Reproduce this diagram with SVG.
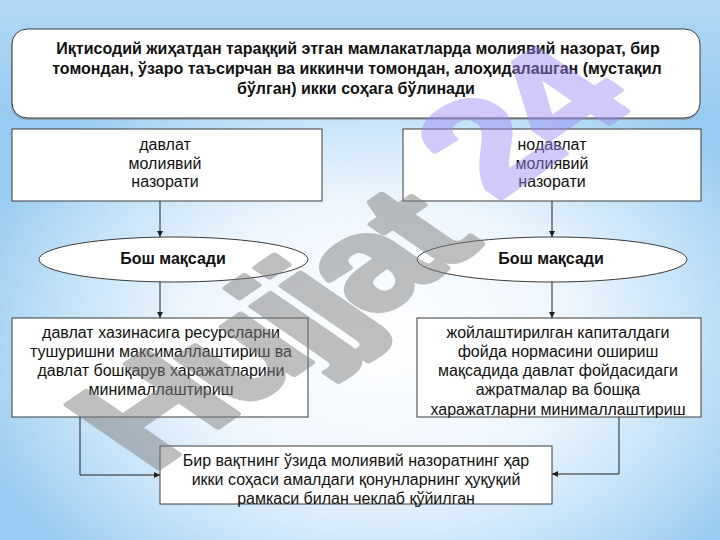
<svg xmlns="http://www.w3.org/2000/svg" width="720" height="540" viewBox="0 0 720 540">
<defs>
<radialGradient id="bg" gradientUnits="userSpaceOnUse" cx="380" cy="340" r="430" gradientTransform="translate(380 340) scale(1 0.72) translate(-380 -340)">
<stop offset="0" stop-color="#ffffff"/>
<stop offset="0.45" stop-color="#eef6fd"/>
<stop offset="0.75" stop-color="#c3e1f8"/>
<stop offset="1" stop-color="#98cbf1"/>
</radialGradient>
<linearGradient id="top" x1="0" y1="0" x2="0" y2="1">
<stop offset="0" stop-color="#b4d9f6" stop-opacity="0.9"/>
<stop offset="1" stop-color="#b4d9f6" stop-opacity="0"/>
</linearGradient>
<marker id="ah" viewBox="0 0 10 10" refX="10" refY="5" markerWidth="6" markerHeight="6" markerUnits="userSpaceOnUse" orient="auto">
<path d="M0,0 L10,5 L0,10 z" fill="#222"/>
</marker>
</defs>
<style>
.box{fill:#ffffff;stroke:#3a3a3a;stroke-width:1}
.t{font-family:"Liberation Sans",Arial,sans-serif;font-size:16px;fill:#111;text-anchor:middle}
.b{font-weight:bold;font-size:16px}
.c{fill:none;stroke:#222;stroke-width:1}
.wm{font-family:"Liberation Sans",Arial,sans-serif;font-weight:bold;font-size:130px;stroke-width:5;stroke-linejoin:round}
</style>
<rect x="0" y="0" width="720" height="540" fill="url(#bg)"/>
<rect x="0" y="0" width="720" height="120" fill="url(#top)"/>

<g id="node-top">
<rect x="11" y="31" width="689" height="89" rx="15" fill="#7a7a7a" opacity="0.45"/>
<rect x="12" y="29" width="688" height="89" rx="15" class="box" stroke="#555"/>
<text class="t b" x="358" y="54">Иқтисодий жиҳатдан тараққий этган мамлакатларда молиявий назорат, бир</text>
<text class="t b" x="357" y="74">томондан, ўзаро таъсирчан ва иккинчи томондан, алоҳидалашган (мустақил</text>
<text class="t b" x="356" y="94">бўлган) икки соҳага бўлинади</text>
</g>

<g id="node-state">
<rect x="12" y="129" width="310" height="72" class="box"/>
<text class="t" x="165" y="150">давлат</text>
<text class="t" x="165" y="168.5">молиявий</text>
<text class="t" x="165" y="187">назорати</text>
</g>

<g id="node-nonstate">
<rect x="403" y="129" width="298" height="72" class="box"/>
<text class="t" x="552" y="150">нодавлат</text>
<text class="t" x="552" y="168.5">молиявий</text>
<text class="t" x="552" y="187">назорати</text>
</g>

<g id="node-goal-left">
<ellipse cx="173.5" cy="259.5" rx="134.5" ry="22.5" class="box"/>
<text class="t b" x="173" y="264">Бош мақсади</text>
</g>

<g id="node-goal-right">
<ellipse cx="552" cy="259.5" rx="135" ry="22.5" class="box"/>
<text class="t b" x="551" y="264">Бош мақсади</text>
</g>

<g id="node-left-goal-text">
<rect x="12" y="318" width="296" height="99" class="box"/>
<text class="t" x="161" y="338">давлат хазинасига ресурсларни</text>
<text class="t" x="161" y="357">тушуришни максималлаштириш ва</text>
<text class="t" x="161" y="376">давлат бошқарув харажатларини</text>
<text class="t" x="161" y="395">минималлаштириш</text>
</g>

<g id="node-right-goal-text">
<rect x="417" y="318" width="284" height="99" class="box"/>
<text class="t" x="558" y="338">жойлаштирилган капиталдаги</text>
<text class="t" x="558" y="357">фойда нормасини ошириш</text>
<text class="t" x="558" y="376">мақсадида давлат фойдасидаги</text>
<text class="t" x="558" y="395">ажратмалар ва бошқа</text>
<text class="t" x="558" y="414.5">харажатларни минималлаштириш</text>
</g>

<g id="node-bottom">
<rect x="160" y="446" width="392" height="58" class="box"/>
<text class="t" x="356" y="466">Бир вақтнинг ўзида молиявий назоратнинг ҳар</text>
<text class="t" x="356" y="485">икки соҳаси амалдаги қонунларнинг ҳуқуқий</text>
<text class="t" x="356" y="503.5">рамкаси билан чеклаб қўйилган</text>
</g>

<g id="connectors">
<line x1="160" y1="201" x2="160" y2="237" class="c" marker-end="url(#ah)"/>
<line x1="552" y1="201" x2="552" y2="237" class="c" marker-end="url(#ah)"/>
<line x1="160" y1="282" x2="160" y2="318" class="c" marker-end="url(#ah)"/>
<line x1="552" y1="282" x2="552" y2="318" class="c" marker-end="url(#ah)"/>
<polyline points="80,417 80,475 160,475" class="c" marker-end="url(#ah)"/>
<polyline points="619,417 619,474 552,474" class="c" marker-end="url(#ah)"/>
</g>

<g id="watermark" transform="translate(150 474) scale(1.45 1) rotate(-45)">
<g opacity="0.5"><text class="wm" x="0" y="0" letter-spacing="-7" fill="#7f7f7f" stroke="#7f7f7f">Hujjat</text></g>
<g opacity="0.45"><text class="wm" x="362" y="-24" letter-spacing="-5" fill="#9a88f2" stroke="#9a88f2">24</text></g>
</g>
</svg>
